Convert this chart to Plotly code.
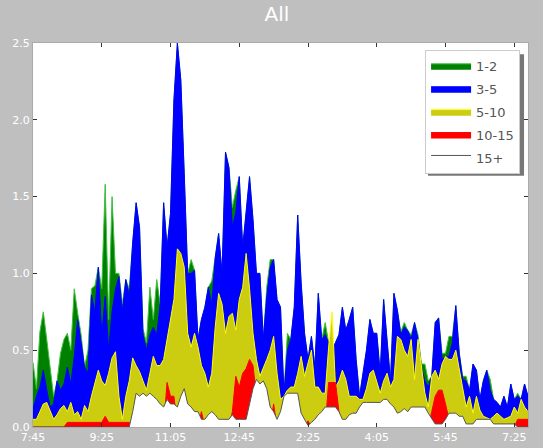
"""Recreate the 'All' overlapping area chart."""
import plotly.graph_objects as go

# time axis: 5-minute samples starting 7:45 (minutes after midnight)
start_min = 465
step_min = 5

g_1_2 = [0.42, 0.25, 0.62, 0.75, 0.57, 0.39, 0.2, 0.3, 0.48, 0.57,
         0.61, 0.5, 0.9, 0.74, 0.6, 0.39, 0.5, 0.9, 0.92, 1.04,
         0.9, 1.58, 0.7, 1.5, 1.0, 1.0, 0.8, 0.96, 0.9, 1.2,
         1.46, 1.3, 0.64, 0.55, 0.91, 0.7, 0.96, 0.8, 1.46, 1.17,
         1.39, 2.13, 2.5, 2.26, 1.65, 1.0, 1.09, 1.02, 0.57, 0.7,
         0.78, 0.91, 0.95, 1.1, 1.26, 1.0, 1.79, 1.69, 1.43, 1.54,
         1.63, 1.17, 1.4, 1.63, 1.35, 1.0, 1.0, 0.57, 0.91, 1.09,
         1.09, 0.83, 0.78, 0.22, 0.61, 0.57, 0.78, 1.38, 0.94, 0.61,
         0.44, 0.59, 0.39, 0.87, 0.57, 0.68, 0.55, 0.5, 0.55, 0.6,
         0.78, 0.63, 0.7, 0.78, 0.44, 0.2, 0.35, 0.5, 0.7, 0.61,
         0.61, 0.35, 0.83, 0.57, 0.3, 0.87, 0.76, 0.62, 0.68, 0.63,
         0.6, 0.68, 0.6, 0.41, 0.41, 0.3, 0.33, 0.68, 0.71, 0.48,
         0.48, 0.59, 0.59, 0.79, 0.48, 0.33, 0.33, 0.24, 0.41, 0.37,
         0.18, 0.3, 0.37, 0.31, 0.18, 0.16, 0.13, 0.2, 0.13, 0.28,
         0.18, 0.22, 0.18, 0.28, 0.2]

b_3_5 = [0.12, 0.2, 0.26, 0.37, 0.24, 0.13, 0.15, 0.3, 0.24, 0.28,
         0.39, 0.28, 0.46, 0.7, 0.55, 0.39, 0.35, 0.86, 0.75, 1.04,
         0.6, 0.85, 0.5, 0.75, 0.9, 0.98, 0.75, 0.96, 0.85, 1.2,
         1.46, 1.3, 0.6, 0.5, 0.6, 0.65, 0.6, 0.8, 1.46, 1.17,
         1.39, 2.13, 2.5, 2.26, 1.65, 1.0, 1.0, 1.02, 0.57, 0.7,
         0.78, 0.91, 0.8, 1.1, 1.26, 1.0, 1.79, 1.69, 1.3, 1.4,
         1.63, 1.17, 1.4, 1.63, 1.35, 1.0, 1.0, 0.57, 0.85, 1.04,
         1.09, 0.83, 0.78, 0.22, 0.5, 0.57, 0.78, 1.38, 0.94, 0.61,
         0.44, 0.59, 0.39, 0.87, 0.57, 0.6, 0.55, 0.5, 0.55, 0.6,
         0.78, 0.63, 0.7, 0.78, 0.44, 0.2, 0.35, 0.5, 0.7, 0.61,
         0.61, 0.35, 0.83, 0.57, 0.3, 0.87, 0.76, 0.6, 0.65, 0.63,
         0.57, 0.68, 0.57, 0.39, 0.3, 0.26, 0.33, 0.68, 0.71, 0.44,
         0.46, 0.46, 0.55, 0.79, 0.48, 0.31, 0.3, 0.24, 0.41, 0.37,
         0.18, 0.3, 0.37, 0.24, 0.18, 0.16, 0.13, 0.2, 0.13, 0.28,
         0.18, 0.2, 0.18, 0.28, 0.2]

y_5_10 = [0.05, 0.05, 0.1, 0.15, 0.16, 0.1, 0.05, 0.08, 0.12, 0.14,
          0.1, 0.16, 0.08, 0.1, 0.05, 0.14, 0.1, 0.2, 0.28, 0.37,
          0.3, 0.27, 0.35, 0.45, 0.49, 0.2, 0.05, 0.2, 0.3, 0.45,
          0.4, 0.36, 0.3, 0.24, 0.35, 0.46, 0.4, 0.4, 0.44, 0.57,
          0.7, 0.83, 1.16, 1.13, 1.04, 0.61, 0.52, 0.61, 0.52, 0.4,
          0.35, 0.26, 0.35, 0.65, 0.87, 0.8, 0.61, 0.72, 0.74, 0.63,
          0.83, 0.91, 1.13, 0.9, 0.61, 0.44, 0.33, 0.38, 0.44, 0.5,
          0.59, 0.35, 0.18, 0.2, 0.24, 0.26, 0.26, 0.35, 0.46, 0.33,
          0.42, 0.5, 0.26, 0.26, 0.22, 0.22, 0.52, 0.75, 0.26, 0.3,
          0.37, 0.31, 0.2, 0.2, 0.2, 0.18, 0.18, 0.25, 0.35, 0.37,
          0.3, 0.22, 0.3, 0.35, 0.26, 0.31, 0.59, 0.57, 0.5, 0.46,
          0.57, 0.31, 0.57, 0.39, 0.22, 0.13, 0.33, 0.37, 0.31, 0.41,
          0.46, 0.44, 0.44, 0.5, 0.37, 0.24, 0.13, 0.2, 0.09, 0.2,
          0.11, 0.07, 0.06, 0.05, 0.07, 0.09, 0.07, 0.05, 0.06, 0.07,
          0.13, 0.09, 0.18, 0.13, 0.1]

r_10_15 = [0, 0, 0, 0, 0, 0, 0, 0, 0, 0,
           0.03, 0.03, 0.03, 0.03, 0.03, 0.03, 0.03, 0.03, 0.03, 0.03,
           0.03, 0.07, 0.03, 0.03, 0.03, 0.03, 0.03, 0.03, 0.03, 0,
           0, 0, 0, 0, 0, 0, 0, 0, 0, 0.29,
           0.2, 0.2, 0, 0, 0, 0, 0, 0, 0, 0.1,
           0, 0, 0, 0, 0, 0, 0, 0, 0.1, 0.33,
           0.26, 0.35, 0.38, 0.44, 0.4, 0.2, 0, 0, 0, 0,
           0.15, 0, 0, 0, 0, 0, 0, 0, 0, 0,
           0.04, 0, 0, 0, 0, 0, 0.29, 0.29, 0.29, 0.1,
           0, 0, 0, 0, 0, 0, 0, 0, 0, 0,
           0, 0, 0, 0, 0, 0, 0, 0, 0, 0,
           0, 0, 0, 0, 0, 0, 0.1, 0.2, 0.24, 0.24,
           0.15, 0.05, 0, 0, 0, 0, 0, 0, 0, 0,
           0, 0, 0, 0, 0, 0, 0, 0, 0, 0,
           0, 0.05, 0.05, 0.05, 0.05]

w_15_plus = [0, 0, 0, 0, 0, 0, 0, 0, 0, 0,
             0, 0, 0, 0, 0, 0, 0, 0, 0, 0,
             0, 0, 0, 0, 0, 0, 0, 0, 0, 0.1,
             0.22, 0.2, 0.22, 0.2, 0.22, 0.2, 0.18, 0.15, 0.13, 0.18,
             0.15, 0.15, 0.13, 0.2, 0.25, 0.15, 0.13, 0.1, 0.1, 0.05,
             0.05, 0.08, 0.1, 0.08, 0.05, 0.05, 0.05, 0.05, 0.08, 0.05,
             0.05, 0.05, 0.05, 0.15, 0.25, 0.31, 0.28, 0.3, 0.25, 0.13,
             0.1, 0.05, 0.1, 0.2, 0.22, 0.22, 0.22, 0.22, 0.09, 0.05,
             0.01, 0.03, 0.05, 0.08, 0.1, 0.13, 0.13, 0.13, 0.13, 0.1,
             0.05, 0.05, 0.08, 0.09, 0.09, 0.13, 0.16, 0.16, 0.16, 0.16,
             0.16, 0.16, 0.18, 0.18, 0.15, 0.13, 0.09, 0.1, 0.12, 0.1,
             0.13, 0.13, 0.13, 0.13, 0.13, 0.09, 0.05, 0.02, 0.02, 0.02,
             0.05, 0.09, 0.09, 0.09, 0.07, 0.07, 0.02, 0.02, 0.02, 0.05,
             0.05, 0.05, 0.05, 0.05, 0.02, 0.02, 0.02, 0.02, 0.02, 0.02,
             0.02, 0, 0, 0, 0]

tick_minutes = [465, 565, 665, 765, 865, 965, 1065, 1165]
tick_labels = ["7:45", "9:25", "11:05", "12:45", "2:25", "4:05", "5:45", "7:25"]

times = [start_min + step_min * i for i in range(len(g_1_2))]

series = [
    ("1-2", g_1_2, "#008000", "#3cbf3c"),
    ("3-5", b_3_5, "#0000ff", "#0000ff"),
    ("5-10", y_5_10, "#cccc10", "#ffff00"),
    ("10-15", r_10_15, "#ff0000", "#ff0000"),
    ("15+", w_15_plus, "#ffffff", "#555555"),
]

fig = go.Figure()
for name, vals, fill, edge in series:
    fig.add_trace(go.Scatter(
        x=times, y=vals, name=name, mode="lines", legendgroup=name,
        fill="tozeroy", fillcolor=fill,
        line=dict(color=edge, width=1),
    ))

# legend drop shadow, offset a few pixels right and down
fig.add_shape(type="rect", xref="paper", yref="paper",
              x0=0.798, x1=0.992, y0=0.654, y1=0.971,
              fillcolor="#777777", line=dict(width=0), layer="above")

fig.update_layout(
    width=543, height=448,
    margin=dict(l=33, r=15, t=43, b=21),
    paper_bgcolor="#bfbfbf",
    plot_bgcolor="#ffffff",
    font=dict(family="DejaVu Sans", color="#ffffff", size=11),
    title=dict(text="All", x=0.51, xanchor="center", y=0.984, yanchor="top",
               font=dict(size=20, color="#ffffff")),
    showlegend=True,
    legend=dict(x=0.984, xanchor="right", y=0.982, yanchor="top",
                bgcolor="#ffffff", bordercolor="#cccccc", borderwidth=1,
                font=dict(size=13, color="#555555"),
                itemwidth=40, tracegroupgap=3),
)

fig.update_xaxes(
    range=[465, 1185], tickvals=tick_minutes, ticktext=tick_labels,
    ticks="inside", ticklen=4, tickcolor="#333333", automargin=False,
    showline=True, linecolor="#aaaaaa", mirror="ticks",
    showgrid=False, zeroline=False,
)
fig.update_yaxes(
    range=[0, 2.5], tickvals=[0, 0.5, 1.0, 1.5, 2.0, 2.5],
    ticktext=["0.0", "0.5", "1.0", "1.5", "2.0", "2.5"],
    ticks="inside", ticklen=4, tickcolor="#333333", automargin=False,
    showline=True, linecolor="#aaaaaa", mirror="ticks",
    showgrid=False, zeroline=False,
)

# drop the browser's default page margin so the figure sits at the corner
fig.write_html(
    "out.html",
    config={"displayModeBar": False},
    post_script="document.body.style.margin='0';"
                "document.body.style.background='#bfbfbf';",
)
